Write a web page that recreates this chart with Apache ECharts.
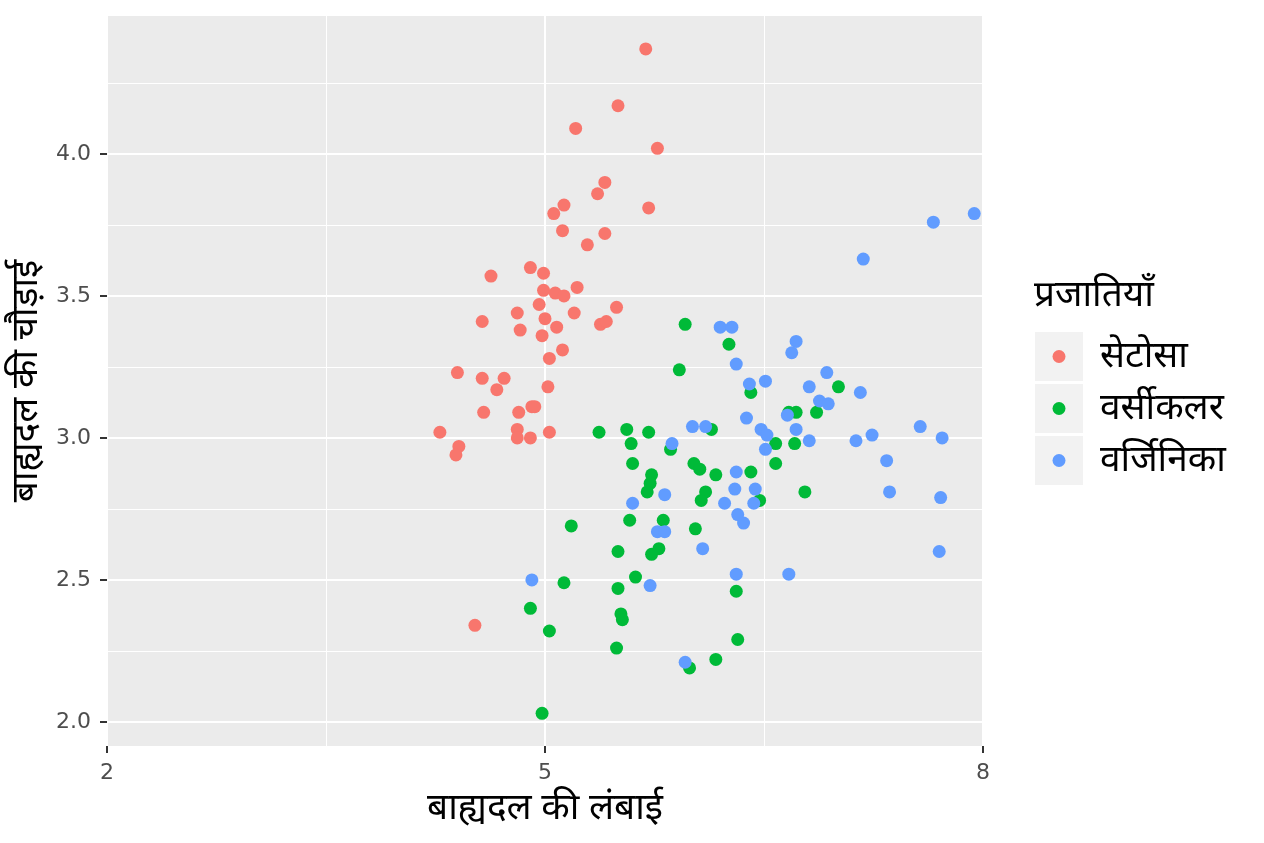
<!DOCTYPE html>
<html>
<head>
<meta charset="utf-8">
<script src="https://cdn.jsdelivr.net/npm/echarts@6/dist/echarts.min.js"></script>
<style>
  html, body { margin: 0; padding: 0; background: #fff; }
  #main { width: 1264px; height: 843px; }
</style>
</head>
<body>
<div id="main"></div>
<script>
// बाह्यदल की लंबाई / चौड़ाई (jittered iris)
var setosaX = [5.69, 5.50, 5.21, 5.77, 5.41, 5.36, 5.13, 5.06, 5.71, 5.12, 5.41, 5.29, 4.63, 4.90, 4.99, 4.99, 5.07,
  5.13, 5.22, 4.96, 5.49, 4.81, 4.57, 5.00, 5.20, 4.83, 4.98, 5.08, 5.38, 5.42, 5.12, 5.03, 4.40, 4.57, 4.72, 4.67,
  5.02, 4.58, 4.82, 4.91, 4.93, 4.28, 4.81, 4.81, 4.90, 5.03, 4.41, 4.39, 4.52];
var setosaY = [4.37, 4.17, 4.09, 4.02, 3.90, 3.86, 3.82, 3.79, 3.81, 3.73, 3.72, 3.68, 3.57, 3.60, 3.58, 3.52, 3.51,
  3.50, 3.53, 3.47, 3.46, 3.44, 3.41, 3.42, 3.44, 3.38, 3.36, 3.39, 3.40, 3.41, 3.31, 3.28, 3.23, 3.21, 3.21, 3.17,
  3.18, 3.09, 3.09, 3.11, 3.11, 3.02, 3.03, 3.00, 3.00, 3.02, 2.97, 2.94, 2.34];

var versicolorX = [5.96, 6.26, 5.92, 6.41, 7.01, 6.72, 6.67, 6.86, 5.37, 5.56, 5.59, 5.71, 6.14, 5.86, 6.58, 6.71,
  6.58, 5.60, 6.02, 6.06, 6.17, 6.41, 5.73, 5.72, 5.70, 6.10, 6.07, 6.47, 6.78, 5.18, 5.58, 5.81, 6.03, 5.50, 5.78,
  5.73, 5.13, 5.50, 5.62, 6.31, 4.90, 5.52, 5.53, 5.03, 5.49, 6.32, 5.99, 6.17, 4.98];
var versicolorY = [3.40, 3.33, 3.24, 3.16, 3.18, 3.09, 3.09, 3.09, 3.02, 3.03, 2.98, 3.02, 3.03, 2.96, 2.98, 2.98,
  2.91, 2.91, 2.91, 2.89, 2.87, 2.88, 2.87, 2.84, 2.81, 2.81, 2.78, 2.78, 2.81, 2.69, 2.71, 2.71, 2.68, 2.60, 2.61,
  2.59, 2.49, 2.47, 2.51, 2.46, 2.40, 2.38, 2.36, 2.32, 2.26, 2.29, 2.19, 2.22, 2.03];

var virginicaX = [7.94, 7.66, 7.18, 6.72, 6.69, 6.20, 6.28, 6.31, 6.93, 6.51, 6.40, 6.81, 6.88, 6.94, 6.66, 6.38,
  6.01, 6.10, 6.48, 6.52, 6.72, 6.51, 6.81, 5.87, 6.31, 6.30, 6.44, 5.82, 5.60, 6.23, 6.43, 6.32, 6.36, 5.77, 5.82,
  6.08, 4.91, 5.72, 6.31, 5.96, 7.16, 7.13, 7.24, 7.57, 7.72, 7.34, 7.36, 7.71, 7.70, 6.67];
var virginicaY = [3.79, 3.76, 3.63, 3.34, 3.30, 3.39, 3.39, 3.26, 3.23, 3.20, 3.19, 3.18, 3.13, 3.12, 3.08, 3.07,
  3.04, 3.04, 3.03, 3.01, 3.03, 2.96, 2.99, 2.98, 2.88, 2.82, 2.82, 2.80, 2.77, 2.77, 2.77, 2.73, 2.70, 2.67, 2.67,
  2.61, 2.50, 2.48, 2.52, 2.21, 3.16, 2.99, 3.01, 3.04, 3.00, 2.92, 2.81, 2.79, 2.60, 2.52];

var speciesNames = ['सेटोसा', 'वर्सीकलर', 'वर्जिनिका'];
var speciesColors = ['#F8766D', '#00BA38', '#619CFF'];

var xMajor = [2, 5, 8];
var xMinor = [3.5, 6.5];
var yMajor = [2.0, 2.5, 3.0, 3.5, 4.0];
var yMinor = [2.25, 2.75, 3.25, 3.75, 4.25];

var FONT = "'Noto Sans', 'Liberation Sans', sans-serif";
var TICK_FONT = "'DejaVu Sans', 'Liberation Sans', sans-serif";
var TEXT_SIZE = 37;

function zip(xs, ys) {
  var out = [];
  for (var i = 0; i < xs.length; i++) out.push([xs[i], ys[i]]);
  return out;
}

function keyIcon(color) {
  var svg = "<svg xmlns='http://www.w3.org/2000/svg' width='48' height='49'>" +
    "<rect width='48' height='49' fill='#F2F2F2'/>" +
    "<circle cx='24' cy='24.5' r='6.5' fill='" + color + "'/></svg>";
  return 'image://data:image/svg+xml;charset=utf-8,' + encodeURIComponent(svg);
}

var chart = echarts.init(document.getElementById('main'));

var seriesData = [zip(setosaX, setosaY), zip(versicolorX, versicolorY), zip(virginicaX, virginicaY)];

var series = speciesNames.map(function (name, i) {
  return {
    name: name,
    type: 'scatter',
    xAxisIndex: 0,
    yAxisIndex: 0,
    symbol: 'circle',
    symbolSize: 13,
    itemStyle: { color: speciesColors[i], opacity: 1 },
    emphasis: { disabled: true },
    data: seriesData[i]
  };
});

var hiddenAxisBits = {
  axisLine: { show: false },
  axisLabel: { show: false }
};

option = {
  animation: false,
  backgroundColor: '#fff',
  title: {
    text: 'प्रजातियाँ',
    left: 1034,
    top: 277,
    padding: 0,
    textStyle: { fontFamily: FONT, fontSize: TEXT_SIZE, fontWeight: 'normal', color: '#000' }
  },
  legend: {
    orient: 'vertical',
    left: 1035,
    top: 332,
    padding: 0,
    itemWidth: 48,
    itemHeight: 49,
    itemGap: 3,
    selectedMode: false,
    data: speciesNames.map(function (name, i) {
      return { name: name, icon: keyIcon(speciesColors[i]) };
    }),
    textStyle: { fontFamily: FONT, fontSize: TEXT_SIZE, color: '#000', padding: [0, 0, 0, 12] }
  },
  grid: {
    left: 107,
    top: 16,
    width: 876,
    height: 730,
    show: true,
    backgroundColor: '#EBEBEB',
    borderWidth: 0
  },
  xAxis: [{
    type: 'value',
    min: 2,
    max: 8,
    name: 'बाह्यदल की लंबाई',
    nameLocation: 'middle',
    nameGap: 44,
    nameTextStyle: { fontFamily: FONT, fontSize: TEXT_SIZE, color: '#000' },
    axisLine: { show: false },
    axisTick: { show: true, length: 7, customValues: xMajor, lineStyle: { color: '#333333', width: 2 } },
    axisLabel: { customValues: xMajor, margin: 16, fontFamily: TICK_FONT, fontSize: 22, color: '#4D4D4D' },
    splitLine: { show: true, lineStyle: { color: '#FFFFFF', width: 2 } }
  }, Object.assign({
    type: 'value',
    min: 2,
    max: 8,
    position: 'bottom',
    splitLine: { show: true, lineStyle: { color: '#FFFFFF', width: 1 } }
  }, hiddenAxisBits, { axisTick: { show: false, customValues: xMinor } })],
  yAxis: [{
    type: 'value',
    min: 1.915,
    max: 4.486,
    name: 'बाह्यदल की चौड़ाई',
    nameLocation: 'middle',
    nameGap: 60,
    nameTextStyle: { fontFamily: FONT, fontSize: TEXT_SIZE, color: '#000' },
    axisLine: { show: false },
    axisTick: { show: true, length: 7, customValues: yMajor, lineStyle: { color: '#333333', width: 2 } },
    axisLabel: {
      customValues: yMajor,
      margin: 16,
      fontFamily: TICK_FONT,
      fontSize: 22,
      color: '#4D4D4D',
      formatter: function (v) { return v.toFixed(1); }
    },
    splitLine: { show: true, lineStyle: { color: '#FFFFFF', width: 2 } }
  }, Object.assign({
    type: 'value',
    min: 1.915,
    max: 4.486,
    position: 'left',
    splitLine: { show: true, lineStyle: { color: '#FFFFFF', width: 1 } }
  }, hiddenAxisBits, { axisTick: { show: false, customValues: yMinor } })],
  series: series
};

chart.setOption(option);
</script>
</body>
</html>
